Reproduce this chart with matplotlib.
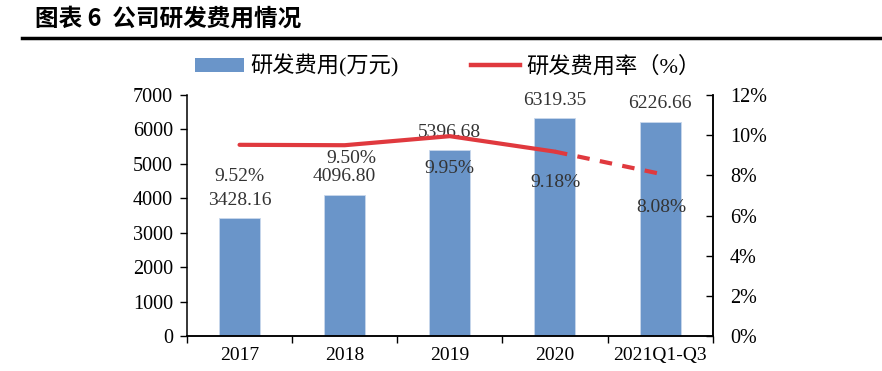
"""R&D expense chart: bars for spend (10k CNY) with R&D expense ratio on a twin axis."""
import matplotlib

matplotlib.use("Agg")
import matplotlib.pyplot as plt
from matplotlib.lines import Line2D
from matplotlib.patches import Patch
from matplotlib.ticker import FuncFormatter

plt.rcParams["font.family"] = ["Liberation Serif", "Noto Sans CJK SC", "DejaVu Sans"]

categories = ["2017", "2018", "2019", "2020", "2021Q1-Q3"]
rd_expense = [3428.16, 4096.80, 5396.68, 6319.35, 6226.66]
rd_ratio = [9.52, 9.50, 9.95, 9.18, 8.08]
ratio_labels = ["9.52%", "9.50%", "9.95%", "9.18%", "8.08%"]
# pixel offsets of the ratio labels relative to the line point
ratio_offsets = [(0, -32), (7, -13), (0, -32), (1, -31), (1, -34)]

bar_color = "#6a95c9"
line_color = "#e0393e"
label_color = "#333333"

fig = plt.figure(figsize=(8.82, 3.71), dpi=100)
ax = fig.add_axes([0.212, 0.094, 0.596, 0.650])
ax2 = ax.twinx()

x = list(range(len(categories)))
ax.bar(x, rd_expense, width=0.39, color=bar_color, edgecolor="#c9d8ec", linewidth=0.6, zorder=2)
ax.set_xlim(-0.5, len(categories) - 0.5)
ax.set_ylim(0, 7000)
ax.set_yticks(range(0, 7001, 1000))
ax.set_xticks(x)
ax.set_xticklabels(categories)
ax.set_xticks([i - 0.5 for i in range(len(categories) + 1)], minor=True)
ax.tick_params(axis="x", which="major", length=0, pad=8, labelsize=14)
ax.tick_params(axis="x", which="minor", direction="out", length=5, width=1)
ax.tick_params(axis="y", direction="out", length=5, width=1, labelsize=14.5, pad=5)

ax2.plot(x[:4], rd_ratio[:4], color=line_color, linewidth=3, solid_capstyle="round", zorder=3)
ax2.plot(x[3:], rd_ratio[3:], color=line_color, linewidth=3, linestyle=(0, (3, 2.5)), zorder=3)
ax2.set_ylim(0, 12)
ax2.set_yticks(range(0, 13, 2))
ax2.yaxis.set_major_formatter(FuncFormatter(lambda v, _: f"{v:.0f}%"))
ax2.tick_params(axis="y", direction="in", length=5, width=1, labelsize=14.5, pad=12.5)

for a in (ax, ax2):
    a.spines["top"].set_visible(False)
    for s in ("left", "right", "bottom"):
        a.spines[s].set_linewidth(1.1)
ax2.spines["left"].set_visible(False)

for xi, v in zip(x, rd_expense):
    ax.annotate(f"{v:.2f}", (xi, v), textcoords="offset pixels", xytext=(0, 18),
                ha="center", va="center", fontsize=14, color=label_color)
for xi, r, lab, off in zip(x, rd_ratio, ratio_labels, ratio_offsets):
    ax2.annotate(lab, (xi, r), textcoords="offset pixels", xytext=off,
                 ha="center", va="center", fontsize=14, color=label_color, zorder=4)

handles = [Patch(facecolor=bar_color, edgecolor="none"),
           Line2D([0], [0], color=line_color, linewidth=3.2)]
fig.legend(handles, ["研发费用(万元)", "研发费用率（%）"], loc="center left",
           bbox_to_anchor=(0.221, 0.822), ncol=2, frameon=False,
           handlelength=2.2, handleheight=0.6, handletextpad=0.3, columnspacing=3.25,
           borderpad=0, borderaxespad=0,
           prop={"family": ["Liberation Serif", "Noto Sans CJK SC"], "size": 16})

fig.text(0.040, 0.950, "图表 6  公司研发费用情况", fontsize=17, fontweight="bold",
         family=["Noto Sans CJK SC"], ha="left", va="center")
fig.add_artist(Line2D([0.025, 1.0], [0.898, 0.898], color="black", linewidth=2.5,
                      transform=fig.transFigure))

fig.savefig("out.png", dpi=100)
